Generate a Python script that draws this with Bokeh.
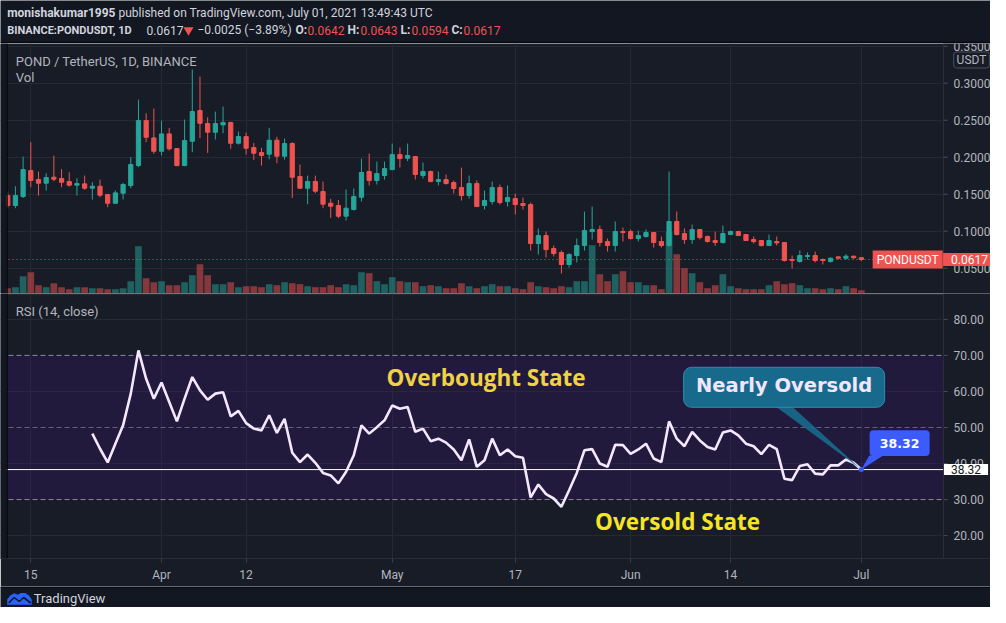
import pandas as pd
from bokeh.plotting import figure
from bokeh.layouts import column
from bokeh.models import Range1d, FixedTicker, Span, Label, BoxAnnotation
from bokeh.core.properties import value
from bokeh.embed import file_html
from bokeh.resources import INLINE

# ---------------- data ----------------
candle_first_date = "2021-03-12"
candle_last_date = "2021-07-01"

opens = [0.1482, 0.1347, 0.1468, 0.1820, 0.1698, 0.1649, 0.1730, 0.1712, 0.1671, 0.1622,
         0.1640, 0.1581, 0.1608, 0.1495, 0.1378, 0.1514, 0.1617, 0.1887, 0.2495, 0.2261,
         0.2081, 0.2315, 0.2117, 0.1887, 0.2216, 0.2631, 0.2455, 0.2338, 0.2437, 0.2468,
         0.2189, 0.2279, 0.2131, 0.2063, 0.2041, 0.2230, 0.2014, 0.2185, 0.1739, 0.1581,
         0.1671, 0.1536, 0.1378, 0.1347, 0.1203, 0.1293, 0.1459, 0.1806, 0.1685, 0.1752,
         0.1833, 0.2036, 0.1986, 0.2009, 0.1752, 0.1806, 0.1671, 0.1698, 0.1658, 0.1590,
         0.1482, 0.1644, 0.1347, 0.1401, 0.1590, 0.1401, 0.1441, 0.1374, 0.1360, 0.0833,
         0.0941, 0.0766, 0.0712, 0.0550, 0.0671, 0.0806, 0.0995, 0.1023, 0.0860, 0.0806,
         0.0995, 0.0995, 0.0901, 0.0928, 0.0982, 0.0860, 0.0806, 0.1131, 0.0968, 0.0887,
         0.1023, 0.0928, 0.0874, 0.0847, 0.0955, 0.0995, 0.0955, 0.0887, 0.0874, 0.0806,
         0.0860, 0.0847, 0.0617, 0.0590, 0.0658, 0.0671, 0.0617, 0.0590, 0.0653, 0.0635,
         0.0662, 0.0642]
highs = [0.1536, 0.1608, 0.2009, 0.2203, 0.1806, 0.1784, 0.2023, 0.1838, 0.1797, 0.1716,
         0.1752, 0.1662, 0.1698, 0.1505, 0.1550, 0.1653, 0.2000, 0.2779, 0.2595, 0.2658,
         0.2495, 0.2396, 0.2122, 0.2509, 0.3185, 0.3090, 0.2541, 0.2617, 0.2685, 0.2480,
         0.2347, 0.2333, 0.2194, 0.2126, 0.2396, 0.2275, 0.2252, 0.2203, 0.1901, 0.1752,
         0.1752, 0.1671, 0.1437, 0.1423, 0.1563, 0.1577, 0.1982, 0.2050, 0.1941, 0.1941,
         0.2185, 0.2131, 0.2185, 0.2014, 0.1928, 0.1820, 0.1806, 0.1766, 0.1685, 0.1860,
         0.1752, 0.1685, 0.1550, 0.1671, 0.1631, 0.1617, 0.1509, 0.1455, 0.1387, 0.1036,
         0.0995, 0.0806, 0.0739, 0.0703, 0.0901, 0.1266, 0.1333, 0.1077, 0.0901, 0.1131,
         0.1050, 0.1023, 0.1009, 0.1023, 0.0986, 0.0928, 0.1806, 0.1266, 0.1036, 0.1090,
         0.1027, 0.0941, 0.0995, 0.1077, 0.1009, 0.1005, 0.0958, 0.0928, 0.0878, 0.0955,
         0.0928, 0.0850, 0.0671, 0.0739, 0.0712, 0.0725, 0.0631, 0.0644, 0.0662, 0.0689,
         0.0671, 0.0643]
lows = [0.1311, 0.1311, 0.1450, 0.1595, 0.1482, 0.1550, 0.1676, 0.1595, 0.1604, 0.1482,
        0.1559, 0.1428, 0.1459, 0.1324, 0.1369, 0.1428, 0.1581, 0.1865, 0.2203, 0.2045,
        0.2023, 0.2090, 0.1878, 0.1878, 0.2068, 0.2257, 0.2059, 0.2239, 0.2324, 0.2113,
        0.2171, 0.2036, 0.1964, 0.1887, 0.1973, 0.1919, 0.1968, 0.1450, 0.1575, 0.1365,
        0.1514, 0.1311, 0.1180, 0.1176, 0.1144, 0.1279, 0.1401, 0.1617, 0.1631, 0.1698,
        0.1824, 0.1860, 0.1946, 0.1698, 0.1712, 0.1662, 0.1617, 0.1631, 0.1509, 0.1414,
        0.1441, 0.1328, 0.1293, 0.1360, 0.1360, 0.1333, 0.1225, 0.1293, 0.0739, 0.0685,
        0.0644, 0.0658, 0.0428, 0.0509, 0.0577, 0.0739, 0.0887, 0.0793, 0.0725, 0.0725,
        0.0860, 0.0887, 0.0860, 0.0914, 0.0779, 0.0779, 0.0793, 0.0941, 0.0829, 0.0829,
        0.0887, 0.0847, 0.0802, 0.0833, 0.0950, 0.0937, 0.0870, 0.0833, 0.0793, 0.0802,
        0.0806, 0.0590, 0.0495, 0.0577, 0.0617, 0.0577, 0.0550, 0.0577, 0.0617, 0.0617,
        0.0626, 0.0594]
closes = [0.1347, 0.1482, 0.1833, 0.1685, 0.1649, 0.1725, 0.1703, 0.1662, 0.1622, 0.1644,
          0.1581, 0.1608, 0.1486, 0.1378, 0.1518, 0.1631, 0.1901, 0.2495, 0.2270, 0.2081,
          0.2315, 0.2113, 0.1887, 0.2225, 0.2617, 0.2459, 0.2338, 0.2455, 0.2468, 0.2189,
          0.2279, 0.2122, 0.2054, 0.2023, 0.2230, 0.2014, 0.2185, 0.1730, 0.1581, 0.1671,
          0.1541, 0.1365, 0.1338, 0.1203, 0.1311, 0.1468, 0.1793, 0.1685, 0.1779, 0.1847,
          0.2036, 0.1982, 0.2023, 0.1766, 0.1806, 0.1671, 0.1698, 0.1644, 0.1577, 0.1482,
          0.1644, 0.1333, 0.1414, 0.1590, 0.1387, 0.1455, 0.1360, 0.1347, 0.0833, 0.0941,
          0.0752, 0.0698, 0.0550, 0.0685, 0.0806, 0.1009, 0.1023, 0.0847, 0.0806, 0.0995,
          0.0982, 0.0901, 0.0941, 0.0982, 0.0847, 0.0806, 0.1131, 0.0955, 0.0887, 0.1023,
          0.0914, 0.0860, 0.0847, 0.0968, 0.0995, 0.0941, 0.0874, 0.0860, 0.0806, 0.0874,
          0.0842, 0.0604, 0.0604, 0.0671, 0.0671, 0.0604, 0.0604, 0.0635, 0.0635, 0.0662,
          0.0642, 0.0617]
volumes = [5.3, 6.3, 17.3, 21.3, 8.3, 6.3, 10.3, 6.3, 4.3, 6.3,
           6.3, 5.3, 5.3, 4.3, 4.3, 5.3, 12.3, 47.3, 15.3, 11.3,
           12.3, 8.3, 8.3, 11.3, 18.3, 29.3, 18.3, 9.3, 9.3, 11.3,
           6.3, 7.3, 7.3, 6.3, 9.3, 8.3, 11.3, 10.3, 9.3, 7.3,
           6.3, 6.3, 8.3, 6.3, 9.3, 8.3, 21.3, 20.3, 12.3, 9.3,
           16.3, 12.3, 11.3, 11.3, 7.3, 8.3, 7.3, 5.3, 5.3, 10.3,
           7.3, 5.3, 7.3, 9.3, 7.3, 7.3, 5.3, 4.3, 11.3, 7.3,
           6.3, 5.3, 7.3, 6.3, 12.3, 12.3, 48.3, 19.3, 12.3, 19.3,
           22.3, 11.3, 11.3, 8.3, 8.3, 4.3, 61.7, 39.3, 25.3, 20.3,
           11.3, 5.3, 8.3, 19.3, 7.3, 5.3, 4.3, 4.3, 4.3, 8.3,
           12.3, 9.3, 10.3, 8.3, 5.3, 5.3, 4.3, 5.3, 4.3, 7.3,
           5.3, 3.3]

rsi_first_date = "2021-03-23"
rsi_values = [48.3, 44.1, 40.3, 45.5, 50.6, 59.4, 71.4, 63.5, 58.0,
              62.5, 57.1, 51.7, 58.0, 64.0, 60.3, 57.7, 59.4, 59.8, 53.1,
              54.6, 51.2, 49.7, 49.2, 53.4, 48.5, 52.4, 43.0, 40.4, 42.5,
              40.2, 37.4, 36.7, 34.5, 37.7, 42.3, 50.6, 48.3, 50.1, 52.0,
              56.1, 55.2, 55.7, 48.8, 49.7, 46.2, 46.9, 45.8, 43.9, 40.9,
              46.7, 39.1, 40.9, 46.9, 42.3, 43.9, 42.0, 41.6, 30.6, 34.2,
              31.5, 30.3, 28.0, 32.6, 37.4, 43.7, 44.0, 40.0, 39.1, 45.2,
              45.1, 42.7, 43.9, 45.5, 41.4, 40.4, 51.7, 46.9, 44.8, 48.8,
              46.4, 44.6, 43.9, 48.6, 49.2, 47.8, 45.5, 44.8, 42.6, 45.2,
              44.0, 35.8, 35.4, 39.3, 39.8, 37.2, 37.0, 39.5, 39.5, 41.1,
              40.2, 38.32]

tick_dates = ["2021-03-15", "2021-04-01", "2021-04-12", "2021-05-01",
              "2021-05-17", "2021-06-01", "2021-06-14", "2021-07-01"]
tick_labels = ["15", "Apr", "12", "May", "17", "Jun", "14", "Jul"]
price_ticks = [0.05, 0.10, 0.15, 0.20, 0.25, 0.30, 0.35]
rsi_ticks = [20, 30, 40, 50, 60, 70, 80]
rsi_grid = [20, 40, 60, 80]
rsi_upper, rsi_mid, rsi_lower = 70, 50, 30
symbol = "PONDUSDT"
last_close = closes[-1]
last_rsi = rsi_values[-1]

# ---------------- derived ----------------
ORIGIN = pd.Timestamp("2021-03-15")
cdates = pd.date_range(candle_first_date, candle_last_date, freq="D")
cx = [(d - ORIGIN).days for d in cdates]
rdates = pd.date_range(rsi_first_date, candle_last_date, freq="D")
rx = [(d - ORIGIN).days for d in rdates]
tick_x = [(pd.Timestamp(d) - ORIGIN).days for d in tick_dates]

GREEN = "#26a69a"
RED = "#ef5350"
BG = "#181c27"
HEAD = "#131722"
GRID = "#252934"
TXT = "#b2b5be"
WHITE = "#d1d4dc"
AXLINE = "#2a2e39"
FONT = "Roboto"

up = [c >= o for o, c in zip(opens, closes)]
ccol = [GREEN if u else RED for u in up]
btop = [max(o, c) for o, c in zip(opens, closes)]
bbot = [min(o, c) for o, c in zip(opens, closes)]

W = 990
PX_DAY = 7.69
X0 = -3.94
x_range = Range1d(X0, X0 + W / PX_DAY)


def d_at(px):
    return X0 + px / PX_DAY


D_AXIS = d_at(943)


def right_axis(p, ticks, labels):
    n = len(ticks)
    p.add_layout(BoxAnnotation(left=D_AXIS, fill_color=BG, fill_alpha=1,
                               line_color=None, level="underlay"))
    p.segment(x0=[D_AXIS] * n, y0=ticks, x1=[d_at(947)] * n, y1=ticks,
              line_color="#4a4e59", line_width=1)
    p.text(x=[d_at(953)] * n, y=ticks, text=labels, text_font=value(FONT),
           text_font_size="12px", text_color=TXT, text_align="left",
           text_baseline="middle")
    p.add_layout(Span(location=D_AXIS, dimension="height", line_color=AXLINE, line_width=1))


def left_edge(p):
    p.add_layout(BoxAnnotation(right=d_at(6), fill_color=HEAD, fill_alpha=1,
                               line_color=None, level="overlay"))
    p.add_layout(BoxAnnotation(left=d_at(6), right=d_at(7.3), fill_color="#07080c",
                               fill_alpha=1, line_color=None, level="overlay"))


# ---------------- header ----------------
ph = figure(width=W, height=43, x_range=Range1d(0, W), y_range=Range1d(43, 0),
            x_axis_location=None, y_axis_location=None, output_backend="svg",
            toolbar_location=None, min_border=0, background_fill_color=HEAD,
            border_fill_color=HEAD, outline_line_color=None)
ph.xgrid.visible = False
ph.ygrid.visible = False
ph.quad(left=[0], right=[W], top=[41.3], bottom=[43], fill_color="#07080c", line_color=None)

L1, L2 = 12.3, 29.6


def htext(x, y, t, color=WHITE, bold=False, size="12px", font=FONT):
    ph.add_layout(Label(x=x, y=y, text=t, text_color=color, text_font=font,
                        text_font_size=size, text_font_style="bold" if bold else "normal",
                        text_align="left", text_baseline="middle"))


htext(6.7, L1, "monishakumar1995", bold=True)
htext(118, L1, "published on TradingView.com, July 01, 2021 13:49:43 UTC")
htext(6.7, L2, "BINANCE:PONDUSDT, 1D", bold=True, size="11px")
htext(146, L2, "0.0617")
ph.scatter([188], [L2], marker="inverted_triangle", size=10, fill_color=RED, line_color=None)
htext(197, L2, "\u22120.0025 (\u22123.89%)")
for xl, lab, xv, val in [(295, "O:", 307, "0.0642"), (347, "H:", 360, "0.0643"),
                         (400, "L:", 411, "0.0594"), (451, "C:", 463, "0.0617")]:
    htext(xl, L2, lab, bold=True)
    htext(xv, L2, val, color=RED)

# ---------------- price pane ----------------
p1 = figure(frame_width=W, frame_height=250, x_range=x_range,
            y_range=Range1d(0.0158, 0.3537), x_axis_location=None, y_axis_location=None,
            output_backend="svg", toolbar_location=None, min_border=0,
            background_fill_color=BG, border_fill_color=BG, outline_line_color=None)
p1.extra_y_ranges = {"vol": Range1d(0, 250)}
p1.ygrid.ticker = FixedTicker(ticks=price_ticks)
p1.xgrid.ticker = FixedTicker(ticks=tick_x)
p1.grid.grid_line_color = GRID

p1.vbar(x=cx, width=0.87, top=volumes, bottom=0, y_range_name="vol",
        fill_color=ccol, fill_alpha=0.5, line_color=None)
p1.segment(x0=[X0], y0=[last_close], x1=[D_AXIS], y1=[last_close], line_color=RED,
           line_dash="1 3", line_width=1)
p1.segment(x0=cx, y0=lows, x1=cx, y1=highs, line_color=ccol, line_width=1)
p1.vbar(x=cx, width=0.55, top=btop, bottom=bbot, fill_color=ccol, line_color=ccol, line_width=1)
right_axis(p1, price_ticks, ["%.4f" % t for t in price_ticks])
left_edge(p1)

p1.add_layout(Label(x=d_at(15.3), y=0.3297, text="POND / TetherUS, 1D, BINANCE", text_color=TXT,
                    text_font=FONT, text_font_size="13px", text_baseline="middle"))
p1.add_layout(Label(x=d_at(15.3), y=0.3081, text="Vol", text_color=TXT,
                    text_font=FONT, text_font_size="13px", text_baseline="middle"))
p1.add_layout(Label(x=d_at(971), y=0.3314, text="USDT", text_color=TXT,
                    text_font=FONT, text_font_size="12px", text_align="center",
                    text_baseline="middle", border_line_color="#4a4e59",
                    background_fill_color=BG, padding=(3, 1), border_radius=3))
p1.add_layout(Label(x=d_at(907.2), y=last_close, text=symbol, text_color="#ffffff",
                    text_font=FONT, text_font_size="12px", text_align="center",
                    text_baseline="middle", background_fill_color=RED, padding=(4, 2)))
p1.add_layout(Label(x=d_at(969), y=last_close, text="%.4f" % last_close,
                    text_color="#ffffff", text_font=FONT, text_font_size="12px",
                    text_align="center", text_baseline="middle",
                    background_fill_color=RED, padding=(8, 2)))

# ---------------- RSI pane ----------------
RSI_TOP = 87.18
p2 = figure(frame_width=W, frame_height=265, x_range=x_range,
            y_range=Range1d(13.65, RSI_TOP), y_axis_location=None, output_backend="svg",
            toolbar_location=None, min_border_left=0, min_border_right=0,
            min_border_top=0, min_border_bottom=28, background_fill_color=BG,
            border_fill_color=BG, outline_line_color=None)
PX_RSI = 265 / (RSI_TOP - 13.65)
p2.ygrid.ticker = FixedTicker(ticks=rsi_grid)
p2.xgrid.ticker = FixedTicker(ticks=tick_x)
p2.grid.grid_line_color = GRID

xa = p2.xaxis[0]
xa.ticker = FixedTicker(ticks=tick_x)
xa.major_label_overrides = {t: l for t, l in zip(tick_x, tick_labels)}
xa.axis_line_color = AXLINE
xa.major_tick_line_color = "#3a3e49"
xa.major_tick_out = 4
xa.major_tick_in = 0
xa.minor_tick_line_color = None
xa.major_label_text_color = TXT
xa.major_label_text_font = FONT
xa.major_label_text_font_size = "12px"
xa.major_label_standoff = 5

p2.add_layout(BoxAnnotation(bottom=rsi_lower, top=rsi_upper, right=D_AXIS, fill_color="#39156a",
                            fill_alpha=0.32, line_color=None, level="underlay"))
p2.add_layout(BoxAnnotation(bottom=RSI_TOP - 1.2 / PX_RSI, fill_color=AXLINE, fill_alpha=1,
                            line_color=None, level="underlay"))
for lv, al in [(rsi_upper, 0.85), (rsi_mid, 0.55), (rsi_lower, 0.85)]:
    p2.segment(x0=[X0], y0=[lv], x1=[D_AXIS], y1=[lv], line_color="#a19cb0",
               line_alpha=al, line_dash="5 3", line_width=1)
p2.segment(x0=[X0], y0=[last_rsi], x1=[D_AXIS], y1=[last_rsi], line_color="#ffffff", line_width=1)
p2.line(rx, rsi_values, line_color="#f3e8ff", line_width=2.6)
right_axis(p2, rsi_ticks, ["%.2f" % t for t in rsi_ticks])
left_edge(p2)

p2.add_layout(Label(x=d_at(15.3), y=82.28, text="RSI (14, close)", text_color=TXT,
                    text_font=FONT, text_font_size="13px", text_baseline="middle"))
p2.add_layout(Label(x=59.2, y=63.9, text="Overbought State", text_color="#f0d246",
                    text_font="Open Sans", text_font_style="bold", text_font_size="22.5px",
                    text_align="center", text_baseline="middle"))
p2.add_layout(Label(x=84.1, y=24.0, text="Oversold State", text_color="#f7e524",
                    text_font="Open Sans", text_font_style="bold", text_font_size="22.5px",
                    text_align="center", text_baseline="middle"))

ax0, ay0 = rx[-1], last_rsi


def dx(px):
    return ax0 + px / PX_DAY


def dy(px_up):
    return ay0 + px_up / PX_RSI


TEAL = "#176a8b"
p2.patch([dx(-85), dx(-68.7), dx(-1)], [dy(62.5), dy(62.5), dy(1)],
         fill_color=TEAL, fill_alpha=0.9, line_color=None)
p2.quad(left=[dx(-177.7)], right=[dx(23.3)], top=[dy(102.3)], bottom=[dy(62.3)],
        fill_color=TEAL, line_color="#2b8fae", line_width=1, border_radius=8)
p2.add_layout(Label(x=dx(-77.2), y=dy(84.3), text="Nearly Oversold", text_color="#f1e6ff",
                    text_font="DejaVu Sans", text_font_style="bold", text_font_size="19.5px",
                    text_align="center", text_baseline="middle"))
BLUE = "#3b5bfd"
p2.patch([dx(8), dx(22), dx(0)], [dy(14), dy(14), dy(0)], fill_color=BLUE, line_color=None)
p2.quad(left=[dx(8.3)], right=[dx(68.3)], top=[dy(39.3)], bottom=[dy(13.6)],
        fill_color=BLUE, line_color=None, border_radius=4)
p2.add_layout(Label(x=dx(38.3), y=dy(26.5), text="%.2f" % last_rsi, text_color="#ffffff",
                    text_font="DejaVu Sans", text_font_style="bold", text_font_size="12.5px",
                    text_align="center", text_baseline="middle"))
p2.scatter([ax0], [ay0], size=5, fill_color=BLUE, line_color=None)
p2.add_layout(Label(x=d_at(965.5), y=last_rsi, text="%.2f" % last_rsi,
                    text_color="#131722", text_font=FONT, text_font_size="12px",
                    text_align="center", text_baseline="middle",
                    background_fill_color="#ffffff", padding=(7, 1)))

# ---------------- footer ----------------
FH = 21
pf = figure(width=W, height=FH, x_range=Range1d(0, W), y_range=Range1d(FH, 0),
            x_axis_location=None, y_axis_location=None, output_backend="svg",
            toolbar_location=None, min_border=0, background_fill_color=HEAD,
            border_fill_color=HEAD, outline_line_color=None)
pf.xgrid.visible = False
pf.ygrid.visible = False
pf.quad(left=[0], right=[W], top=[0], bottom=[1.3], fill_color="#07080c", line_color=None)
pf.patch([6.7, 6.7, 9.7, 13.7, 17.2, 20.2, 24.7, 28.7, 31.2, 31.2],
         [18.2, 13, 9, 6.8, 8.3, 6.5, 6.5, 9.3, 13, 18.2],
         fill_color="#2962ff", line_color=None)
pf.line([8.2, 13.7, 18.7, 23.2, 30.2], [16.5, 11, 15, 11, 16.5], line_color=HEAD, line_width=1.6)
pf.add_layout(Label(x=33.3, y=12.3, text="TradingView", text_color=WHITE, text_font=FONT,
                    text_font_size="13px", text_baseline="middle"))

layout = column(ph, p1, p2, pf, spacing=0)
open("out.html", "w").write(file_html(layout, INLINE))
